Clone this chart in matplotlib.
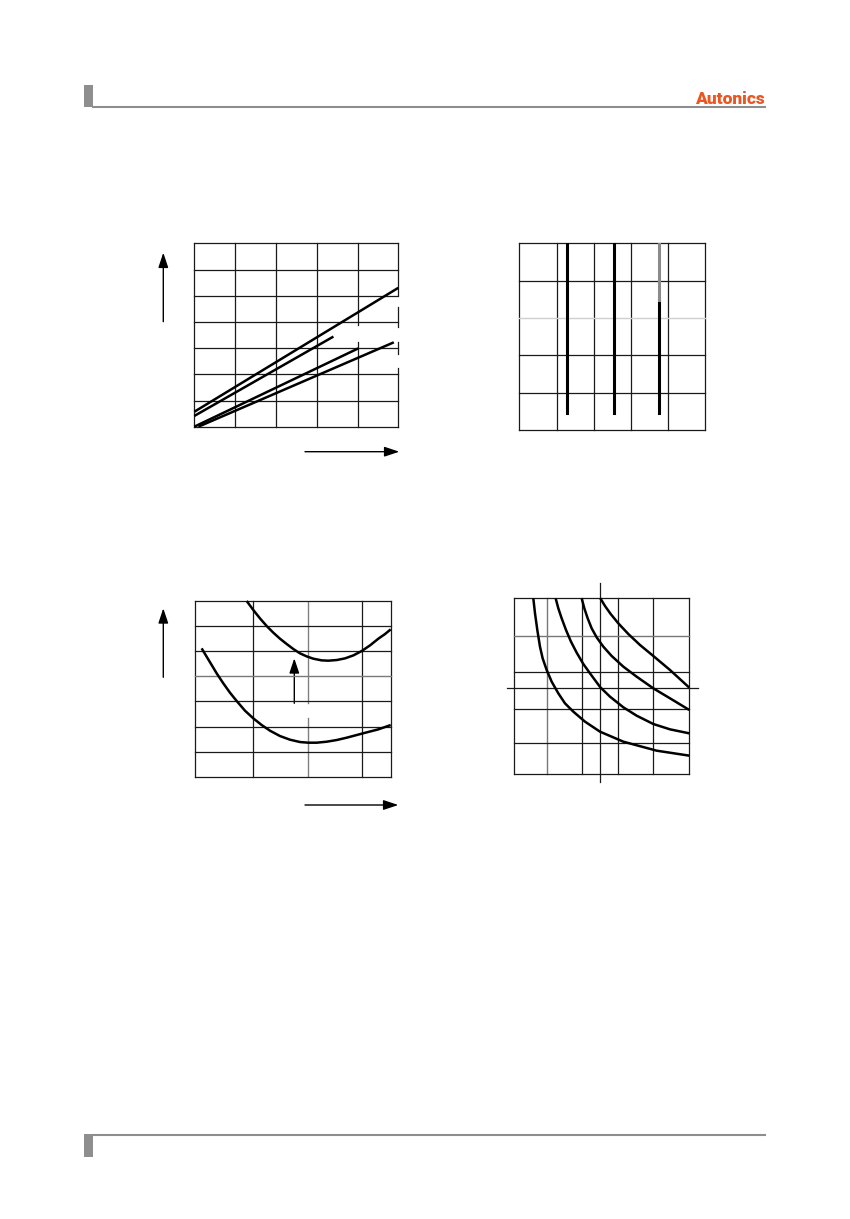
import matplotlib
matplotlib.use("Agg")
import matplotlib.pyplot as plt
from matplotlib.patches import Rectangle

W, H = 850, 1219

# ---- chart 1 : straight lines (grid units, 5 x 7)
c1_lines_x = [[0, 5.0], [0, 3.41], [0, 4.02], [0.1, 4.89]]
c1_lines_y = [[0.57, 5.30], [0.41, 3.44], [0.0, 2.99], [0.0, 3.22]]
c1_xgrid = [0, 1, 2, 3, 4]
c1_ygrid = [0, 1, 2, 3, 4, 5, 6, 7]
c1_border = [[5.03, 7.0], [3.81, 4.57], [2.79, 3.23], [0.0, 2.23]]   # right edge pieces
c1_x4 = [[0.0, 3.24], [3.88, 7.0]]                                   # broken grid line at x=4

# ---- chart 2 : vertical bars (grid units, 5 x 5)
c2_grid = [0, 1, 2, 3, 4, 5]
c2_bars_x = [1.27, 2.55, 3.76]
c2_bar_bottom = 0.45
c2_gray_from = 3.49

# ---- chart 3 : two U-shaped curves
c3_xgrid = [0, 1.05, 2.03, 3.01, 3.53]
c3_ygrid = [0, 1, 2, 3, 4, 5, 6, 7]
c3_up_x = [0.932, 1.052, 1.172, 1.293, 1.413, 1.533, 1.654, 1.774, 1.894, 2.014, 2.135,
           2.285, 2.405, 2.556, 2.706, 2.857, 3.007, 3.157, 3.307, 3.428, 3.530]
c3_up_y = [7.0, 6.640, 6.308, 6.003, 5.737, 5.498, 5.286, 5.086, 4.914, 4.794, 4.701,
           4.635, 4.622, 4.648, 4.714, 4.834, 5.007, 5.232, 5.498, 5.684, 5.870]
c3_lo_x = [0.120, 0.210, 0.301, 0.391, 0.511, 0.631, 0.752, 0.902, 1.052, 1.203, 1.353, 1.533,
           1.714, 1.894, 2.044, 2.195, 2.375, 2.556, 2.736, 2.916, 3.097, 3.307, 3.530]
c3_lo_y = [5.113, 4.781, 4.449, 4.117, 3.718, 3.347, 3.015, 2.629, 2.324, 2.058, 1.833, 1.620,
           1.474, 1.381, 1.355, 1.355, 1.394, 1.461, 1.554, 1.660, 1.766, 1.886, 2.058]

# ---- chart 4 : four hyperbola-like curves
c4_xgrid = [0, 0.93, 1.95, 2.96, 3.97, 5]
c4_ygrid = [0, 0.87, 1.86, 2.89, 3.93, 5]
c4_axis = (2.46, 2.44)
c4_x = [
    [0.551, 0.599, 0.665, 0.741, 0.817, 0.932, 1.074, 1.264, 1.454, 1.692, 2.025, 2.452,
     3.118, 4.068, 5.0],
    [1.188, 1.264, 1.359, 1.483, 1.625, 1.787, 1.977, 2.167, 2.462, 2.738, 3.118, 3.498,
     3.973, 4.449, 5.0],
    [1.930, 2.006, 2.101, 2.215, 2.357, 2.548, 2.785, 3.118, 3.498, 3.973, 4.449, 5.0],
    [2.462, 2.595, 2.757, 2.975, 3.260, 3.593, 3.973, 4.449, 5.0],
]
c4_y = [
    [5.0, 4.573, 4.099, 3.624, 3.292, 2.960, 2.628, 2.296, 2.011, 1.774, 1.490, 1.205,
     0.920, 0.664, 0.522],
    [5.0, 4.715, 4.431, 4.099, 3.767, 3.454, 3.131, 2.865, 2.467, 2.201, 1.898, 1.660,
     1.423, 1.271, 1.157],
    [5.0, 4.715, 4.431, 4.146, 3.890, 3.624, 3.359, 3.055, 2.770, 2.438, 2.154, 1.822],
    [5.0, 4.782, 4.554, 4.288, 3.985, 3.672, 3.359, 2.960, 2.457],
]

GRID = dict(color="#1a1a1a", lw=0.9)
CURVE = dict(color="black", lw=1.8, solid_capstyle="butt", solid_joinstyle="round")

fig = plt.figure(figsize=(W / 100, H / 100), dpi=100)

# page layer (header, footer, arrows)
pg = fig.add_axes([0, 0, 1, 1])
pg.set_xlim(0, W)
pg.set_ylim(H, 0)
pg.axis("off")


def panel(x0, y0, x1, y1, xlim, ylim):
    ax = fig.add_axes([x0 / W, 1 - y1 / H, (x1 - x0) / W, (y1 - y0) / H])
    ax.set_xlim(xlim)
    ax.set_ylim(ylim)
    ax.axis("off")
    return ax


def arrow(x0, y0, x1, y1):
    pg.annotate("", xy=(x1, y1), xytext=(x0, y0),
                arrowprops=dict(arrowstyle="-|>,head_length=0.9,head_width=0.3",
                                color="black", lw=1.0, shrinkA=0, shrinkB=0))


# header / footer
gray = "#8e8e8e"
pg.add_patch(Rectangle((84.5, 85), 9, 22, color=gray, lw=0))
pg.plot([93, 765], [106.5, 106.5], color=gray, lw=1.5)
pg.add_patch(Rectangle((84.5, 1134), 9, 23, color=gray, lw=0))
pg.plot([93, 765], [1135, 1135], color=gray, lw=1.5)
pg.text(765, 103.5, "Autonics", ha="right", va="baseline", color="#ec5420",
        fontsize=12.5, fontweight="black", family=["Roboto", "DejaVu Sans"])

# chart 1
ax1 = panel(194.3, 243.3, 398.3, 426.7, (0, 5), (0, 7))
for x in c1_xgrid:
    if x == 4:
        for a, b in c1_x4:
            ax1.plot([x, x], [a, b], clip_on=False, **GRID)
    else:
        ax1.plot([x, x], [0, 7], clip_on=False, **GRID)
for y in c1_ygrid:
    ax1.plot([0, 5], [y, y], clip_on=False, **GRID)
for a, b in c1_border:
    ax1.plot([5, 5], [a, b], clip_on=False, **GRID)
for xs, ys in zip(c1_lines_x, c1_lines_y):
    ax1.plot(xs, ys, clip_on=False, **CURVE)
arrow(163.3, 321.7, 163.3, 252.7)
arrow(305, 451.7, 399.3, 451.7)

# chart 2
ax2 = panel(519.3, 243.3, 705.3, 430, (0, 5), (0, 5))
for x in c2_grid:
    ax2.plot([x, x], [0, 5], clip_on=False, **GRID)
for y in c2_grid:
    ax2.plot([0, 5], [y, y], clip_on=False,
             **(dict(color="#cfcfcf", lw=1.0) if y == 3 else GRID))
for i, x in enumerate(c2_bars_x):
    if i == 2:
        ax2.plot([x, x], [c2_bar_bottom, c2_gray_from], color="black", lw=2.2)
        ax2.plot([x, x], [c2_gray_from, 5], color="#8a8a8a", lw=2.2)
    else:
        ax2.plot([x, x], [c2_bar_bottom, 5], color="black", lw=2.2)

# chart 3
ax3 = panel(195, 601, 390.7, 776.7, (0, 3.53), (0, 7))
for x in c3_xgrid:
    if x == 2.03:
        ax3.plot([x, x], [0, 2.34], color="#808080", lw=1.0)
        ax3.plot([x, x], [2.94, 7], color="#808080", lw=1.0)
    else:
        ax3.plot([x, x], [0, 7], clip_on=False, **GRID)
for y in c3_ygrid:
    ax3.plot([0, 3.53], [y, y], clip_on=False,
             **(dict(color="#7a7a7a", lw=1.0) if y == 4 else GRID))
ax3.plot(c3_up_x, c3_up_y, clip_on=False, **CURVE)
ax3.plot(c3_lo_x, c3_lo_y, clip_on=False, **CURVE)
arrow(294.3, 703.3, 294.3, 658.3)
arrow(163.3, 677.3, 163.3, 608.3)
arrow(305, 805, 398.3, 805)

# chart 4
ax4 = panel(514, 598.3, 689.3, 774, (0, 5), (0, 5))
for i, x in enumerate(c4_xgrid):
    ax4.plot([x, x], [0, 5], clip_on=False,
             **(dict(color="#777777", lw=1.0) if i == 1 else GRID))
for i, y in enumerate(c4_ygrid):
    ax4.plot([0, 5], [y, y], clip_on=False,
             **(dict(color="#777777", lw=1.0) if i == 4 else GRID))
ax4.plot([c4_axis[0]] * 2, [-0.22, 5.43], clip_on=False, **GRID)
ax4.plot([-0.21, 5.26], [c4_axis[1]] * 2, clip_on=False, **GRID)
for xs, ys in zip(c4_x, c4_y):
    ax4.plot(xs, ys, clip_on=False, **CURVE)

fig.savefig("out.png", dpi=100)
